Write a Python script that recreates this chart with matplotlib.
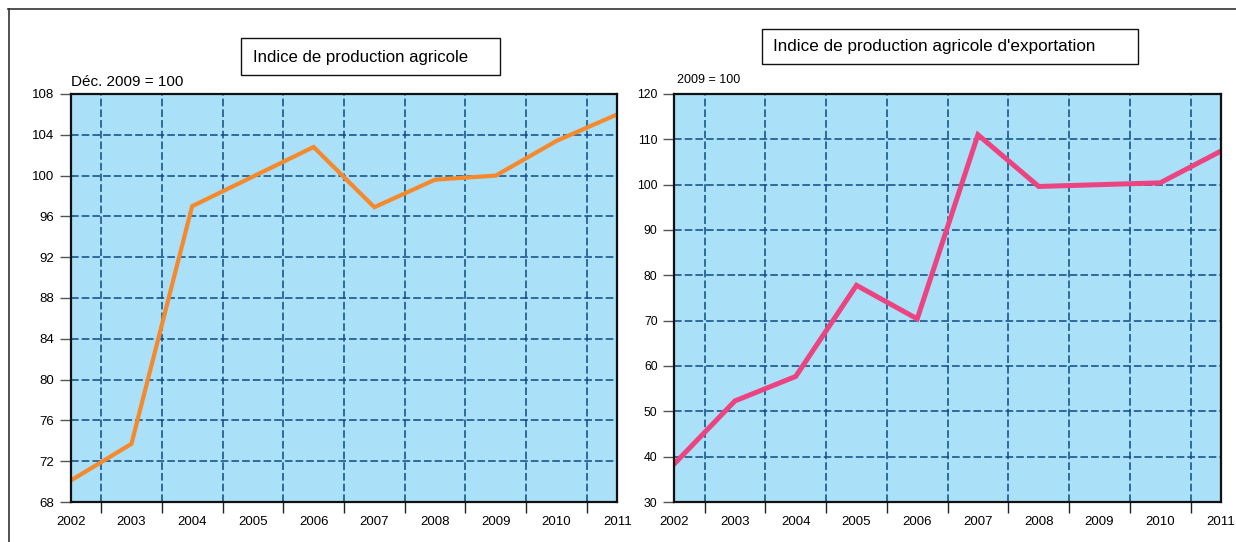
#!/usr/bin/env python3

import matplotlib
matplotlib.use('Agg')
import matplotlib.pyplot as plt
from matplotlib.patches import Rectangle
from matplotlib.lines import Line2D

years = [2002, 2003, 2004, 2005, 2006, 2007, 2008, 2009, 2010, 2011]
agri_index = [70.1, 73.7, 97.0, 99.9, 102.8, 96.9, 99.6, 100.0, 103.4, 106.0]
export_index = [38.4, 52.3, 57.7, 77.8, 70.4, 111.0, 99.6, 100.0, 100.4, 107.4]

agri_ticks = list(range(68, 109, 4))
export_ticks = list(range(30, 121, 10))

BG = '#abe0f9'
GRID = '#0d4a86'

plt.rcParams['font.family'] = ['Liberation Sans', 'DejaVu Sans']


def setup(ax, yticks, ysize):
    ax.set_facecolor(BG)
    ax.set_xlim(years[0], years[-1])
    ax.set_ylim(yticks[0], yticks[-1])
    ax.set_xticks(years)
    ax.set_xticklabels([str(y) for y in years])
    ax.set_xticks([y + 0.5 for y in years[:-1]], minor=True)
    ax.set_yticks(yticks)
    ax.tick_params(axis='x', which='major', length=0, pad=10, labelsize=9.5)
    ax.tick_params(axis='x', which='minor', length=8, width=1, color='#222222')
    ax.tick_params(axis='y', length=8, width=1, color='#555555', pad=4, labelsize=ysize)
    ax.grid(False)
    for y in yticks[1:-1]:
        ax.axhline(y, color=GRID, lw=1.1, ls=(0, (5, 2)), zorder=1)
    for x in years[:-1]:
        ax.axvline(x + 0.5, color=GRID, lw=1.1, ls=(0, (5, 2)), zorder=1)
    for s in ax.spines.values():
        s.set_linewidth(1.6)
        s.set_color('#111111')
        s.set_zorder(5)


fig = plt.figure(figsize=(12.36, 5.42), dpi=100)

ax1 = fig.add_axes([0.0572, 0.0738, 0.4422, 0.7528])
setup(ax1, agri_ticks, 9.5)
ax1.plot(years, agri_index, color='#f5892c', lw=3, zorder=3, solid_joinstyle='miter')

ax2 = fig.add_axes([0.5455, 0.0738, 0.4423, 0.7528])
setup(ax2, export_ticks, 8.8)
ax2.plot(years, export_index, color='#ec4480', lw=3.6, zorder=3, solid_joinstyle='miter')

# title boxes
fig.patches.append(Rectangle((0.195, 0.8616), 0.2095, 0.0683, transform=fig.transFigure,
                             fill=False, ec='#111111', lw=1))
fig.text(0.2047, 0.8948, 'Indice de production agricole', fontsize=12.1, va='center', ha='left')
fig.patches.append(Rectangle((0.6165, 0.8819), 0.3042, 0.0646, transform=fig.transFigure,
                             fill=False, ec='#111111', lw=1))
fig.text(0.6254, 0.9142, "Indice de production agricole d'exportation", fontsize=12.3,
         va='center', ha='left')

fig.text(0.0572, 0.8487, 'Déc. 2009 = 100', fontsize=11, va='center', ha='left')
fig.text(0.548, 0.8524, '2009 = 100', fontsize=9, va='center', ha='left')

# outer frame (top and left edges)
fig.lines.append(Line2D([0.0068, 1.0], [0.983, 0.983], transform=fig.transFigure,
                        color='#333333', lw=1.2))
fig.lines.append(Line2D([0.0072, 0.0072], [0.0, 0.983], transform=fig.transFigure,
                        color='#333333', lw=1.2))

fig.savefig('out.png', dpi=100)
